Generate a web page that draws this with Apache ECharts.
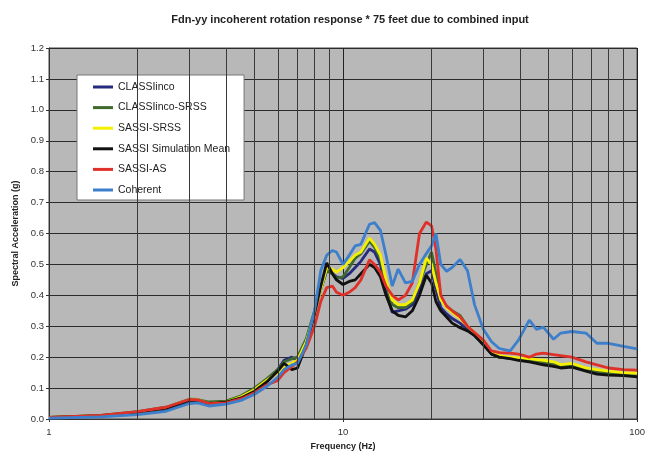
<!DOCTYPE html>
<html>
<head>
<meta charset="utf-8">
<script src="https://cdn.jsdelivr.net/npm/echarts@6/dist/echarts.min.js"></script>
<style>html,body{margin:0;padding:0;background:#fff}#c{width:648px;height:459px}</style>
</head>
<body>
<div id="c"></div>
<script>
var titleText = 'Fdn-yy incoherent rotation response * 75 feet due to combined input';
var seriesNames = ['CLASSIinco', 'CLASSIinco-SRSS', 'SASSI-SRSS', 'SASSI Simulation Mean', 'SASSI-AS', 'Coherent'];
var minorGridFreqs = [2, 3, 4, 5, 6, 7, 8, 9, 20, 30, 40, 50, 60, 70, 80, 90];

var freqs = [1, 1.5, 2, 2.5, 3, 3.2, 3.5, 4, 4.5, 5, 5.5, 6, 6.3, 6.7, 7, 7.5, 8, 8.4, 8.8, 9.2, 9.5, 10, 10.5, 11, 11.5, 12.3, 12.8, 13.4, 14, 14.7, 15.4, 16.3, 17.2, 18.2, 19.2, 20, 20.7, 21.5, 22.5, 23.5, 25, 26.5, 28, 30, 32, 34, 37, 39.5, 43, 45.5, 48, 52, 55, 60, 67, 73, 80, 90, 100];

var classiinco = [0.004, 0.01, 0.02, 0.032, 0.058, 0.06, 0.05, 0.053, 0.065, 0.088, 0.12, 0.16, 0.19, 0.2, 0.19, 0.245, 0.34, 0.42, 0.48, 0.47, 0.46, 0.455, 0.47, 0.49, 0.51, 0.55, 0.54, 0.50, 0.41, 0.345, 0.35, 0.355, 0.37, 0.42, 0.47, 0.48, 0.42, 0.36, 0.34, 0.325, 0.31, 0.29, 0.27, 0.24, 0.212, 0.2, 0.196, 0.193, 0.188, 0.182, 0.18, 0.172, 0.168, 0.17, 0.158, 0.15, 0.146, 0.143, 0.14];
var classiincoSrss = [0.005, 0.012, 0.024, 0.038, 0.064, 0.063, 0.055, 0.058, 0.075, 0.1, 0.13, 0.16, 0.185, 0.195, 0.2, 0.26, 0.35, 0.42, 0.48, 0.47, 0.455, 0.46, 0.49, 0.52, 0.535, 0.575, 0.555, 0.52, 0.44, 0.37, 0.36, 0.36, 0.38, 0.44, 0.50, 0.54, 0.47, 0.39, 0.365, 0.35, 0.335, 0.30, 0.275, 0.245, 0.21, 0.2, 0.198, 0.195, 0.19, 0.185, 0.185, 0.178, 0.17, 0.175, 0.162, 0.155, 0.15, 0.147, 0.145];
var sassiSrss = [0.005, 0.011, 0.022, 0.036, 0.062, 0.062, 0.05, 0.055, 0.072, 0.095, 0.125, 0.15, 0.17, 0.18, 0.19, 0.25, 0.34, 0.42, 0.49, 0.485, 0.475, 0.49, 0.51, 0.53, 0.54, 0.585, 0.565, 0.53, 0.45, 0.385, 0.37, 0.37, 0.385, 0.44, 0.52, 0.50, 0.44, 0.385, 0.36, 0.345, 0.325, 0.30, 0.28, 0.25, 0.215, 0.205, 0.2, 0.198, 0.195, 0.192, 0.19, 0.185, 0.176, 0.18, 0.165, 0.16, 0.155, 0.15, 0.148];
var sassiMean = [0.005, 0.011, 0.022, 0.035, 0.06, 0.06, 0.05, 0.055, 0.068, 0.09, 0.12, 0.155, 0.18, 0.16, 0.165, 0.24, 0.34, 0.43, 0.505, 0.47, 0.45, 0.435, 0.445, 0.45, 0.47, 0.50, 0.49, 0.46, 0.40, 0.35, 0.335, 0.33, 0.35, 0.40, 0.465, 0.44, 0.38, 0.35, 0.33, 0.31, 0.295, 0.285, 0.27, 0.24, 0.21, 0.2, 0.195, 0.19, 0.185, 0.18, 0.175, 0.17, 0.165, 0.168, 0.155, 0.145, 0.142, 0.14, 0.136];
var sassiAs = [0.005, 0.012, 0.024, 0.038, 0.063, 0.062, 0.05, 0.052, 0.065, 0.085, 0.11, 0.125, 0.15, 0.17, 0.185, 0.23, 0.30, 0.38, 0.425, 0.43, 0.41, 0.40, 0.41, 0.425, 0.45, 0.515, 0.50, 0.475, 0.43, 0.40, 0.385, 0.40, 0.44, 0.60, 0.637, 0.625, 0.55, 0.40, 0.365, 0.35, 0.33, 0.30, 0.28, 0.255, 0.22, 0.215, 0.213, 0.21, 0.20, 0.21, 0.213, 0.208, 0.205, 0.20, 0.185, 0.175, 0.165, 0.16, 0.158];
var coherent = [0.003, 0.007, 0.014, 0.025, 0.05, 0.052, 0.042, 0.048, 0.06, 0.08, 0.105, 0.135, 0.16, 0.175, 0.18, 0.24, 0.35, 0.48, 0.53, 0.545, 0.54, 0.50, 0.53, 0.56, 0.565, 0.63, 0.635, 0.61, 0.53, 0.43, 0.485, 0.44, 0.445, 0.50, 0.535, 0.56, 0.60, 0.50, 0.478, 0.49, 0.516, 0.48, 0.37, 0.29, 0.25, 0.228, 0.22, 0.255, 0.32, 0.29, 0.297, 0.258, 0.278, 0.283, 0.278, 0.245, 0.245, 0.235, 0.227];

var seriesValues = [classiinco, classiincoSrss, sassiSrss, sassiMean, sassiAs, coherent];
var seriesColors = ['#262a7e', '#3f6a2c', '#f4f000', '#111111', '#e0302a', '#3d7fcb'];

function pairs(vals) {
  return freqs.map(function (f, i) { return [f, vals[i]]; });
}

var series = seriesNames.map(function (n, i) {
  return {
    name: n, type: 'line', data: pairs(seriesValues[i]), showSymbol: false, symbol: 'none',
    lineStyle: { width: 2.8, color: seriesColors[i] }, itemStyle: { color: seriesColors[i] },
    z: 3, animation: false
  };
});
series.unshift({
  name: 'grid', type: 'line', data: [], z: 1, silent: true, animation: false,
  markLine: {
    silent: true, symbol: ['none', 'none'], animation: false, label: { show: false },
    lineStyle: { color: '#3a3a3a', width: 1, type: 'solid' },
    data: minorGridFreqs.map(function (f) { return { xAxis: f }; })
  }
});

var font = 'Liberation Sans, Arial, sans-serif';
var chart = echarts.init(document.getElementById('c'), null, { renderer: 'canvas' });
chart.setOption({
  animation: false,
  backgroundColor: '#ffffff',
  title: {
    text: titleText, left: 345, top: 9, textAlign: 'center',
    textStyle: { fontFamily: font, fontSize: 11, fontWeight: 'bold', color: '#222' }
  },
  grid: { left: 49, right: 7, top: 48, bottom: 40, show: true, backgroundColor: '#b8b8b8', borderColor: '#444', borderWidth: 1 },
  legend: {
    orient: 'vertical', left: 77, top: 75, data: seriesNames,
    backgroundColor: '#ffffff', borderColor: '#777', borderWidth: 1,
    padding: [6, 14, 4, 16], itemGap: 8.6, itemWidth: 20, itemHeight: 3, icon: 'rect',
    textStyle: { fontFamily: font, fontSize: 10.5, color: '#222', lineHeight: 12 }
  },
  xAxis: {
    type: 'log', logBase: 10, min: 1, max: 100,
    name: 'Frequency (Hz)', nameLocation: 'middle', nameGap: 20,
    nameTextStyle: { fontFamily: font, fontSize: 9, fontWeight: 'bold', color: '#222' },
    axisLine: { lineStyle: { color: '#333' } },
    axisTick: { show: true, length: 3, lineStyle: { color: '#333' } },
    axisLabel: { fontFamily: font, fontSize: 9.5, color: '#333', margin: 8 },
    splitLine: { show: true, lineStyle: { color: '#222', width: 1 } }
  },
  yAxis: {
    type: 'value', min: 0, max: 1.2, interval: 0.1,
    name: 'Spectral Acceleration (g)', nameLocation: 'middle', nameGap: 28,
    nameTextStyle: { fontFamily: font, fontSize: 9, fontWeight: 'bold', color: '#222' },
    axisLine: { show: true, lineStyle: { color: '#333' } },
    axisTick: { show: true, length: 3, lineStyle: { color: '#333' } },
    axisLabel: { fontFamily: font, fontSize: 9.5, color: '#333', margin: 5,
      formatter: function (v) { return v.toFixed(1); } },
    splitLine: { show: true, lineStyle: { color: '#2a2a2a', width: 1 } }
  },
  series: series
});
</script>
</body>
</html>
